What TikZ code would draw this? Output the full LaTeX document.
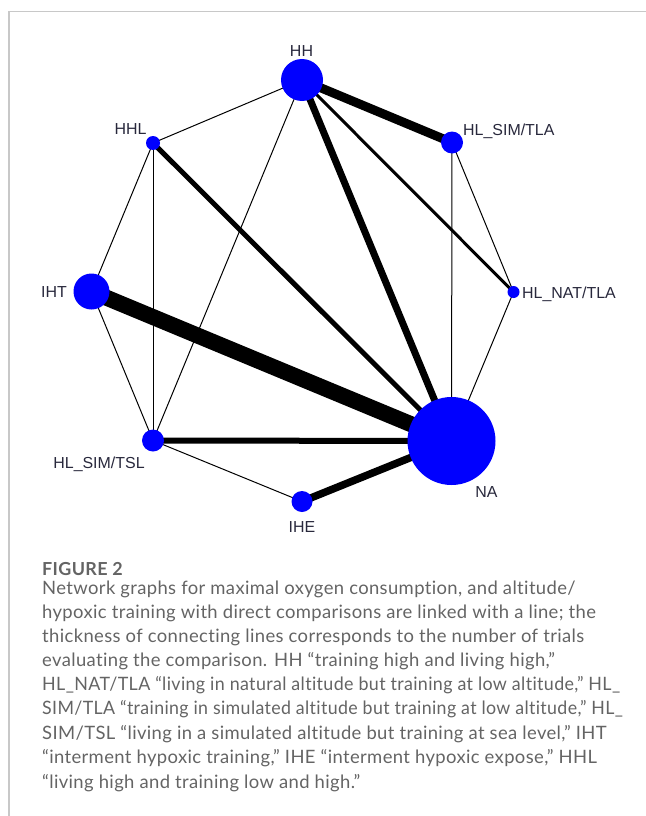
\documentclass[tikz,border=0pt]{standalone}
\usepackage{fontspec}
\setmainfont{Liberation Sans}
\newfontfamily\capfont[LetterSpace=2,Ligatures=NoCommon]{Lato}
\usetikzlibrary{backgrounds}
\definecolor{nodeblue}{RGB}{0,0,255}
\definecolor{labelcol}{RGB}{40,40,60}
\definecolor{captext}{RGB}{100,100,100}
\definecolor{framegray}{RGB}{200,200,200}
\begin{document}
\begin{tikzpicture}[x=1bp,y=-1bp,
  vert/.style={circle,fill=nodeblue,draw=none,inner sep=0pt,minimum size=#1},
  lab/.style={font=\fontsize{16}{16}\selectfont,text=labelcol,inner sep=0pt},
  lnk/.style={draw=black,line width=#1},
  capline/.style={font=\capfont\fontsize{18.5}{20}\selectfont,text=captext,inner sep=0pt,anchor=base west},
  caphead/.style={font=\capfont\bfseries\fontsize{18}{20}\selectfont,text=captext,inner sep=0pt,anchor=base west}]
\useasboundingbox (0,0) rectangle (646,816);
\draw[framegray,line width=1.2bp] (9,816) -- (9,11.5) -- (646,11.5);

% vertices
\node[vert=42bp] (HH) at (302,80) {};
\node[vert=22bp] (SIMTLA) at (452,142.5) {};
\node[vert=14bp] (HHL) at (153,143) {};
\node[vert=36bp] (IHT) at (91.5,291.5) {};
\node[vert=12bp] (NATTLA) at (513.5,292) {};
\node[vert=22bp] (SIMTSL) at (153,440.5) {};
\node[vert=88bp] (NA) at (451.5,441) {};
\node[vert=21bp] (IHE) at (302,501.5) {};

% labels
\node[lab,anchor=base] (lHH) at (301.5,57) {HH};
\node[lab,anchor=base] (lHHL) at (130.5,134) {HHL};
\node[lab,anchor=base west] (lSIMTLA) at (463,135) {HL\_SIM/TLA};
\node[lab,anchor=base] (lIHT) at (54,297) {IHT};
\node[lab,anchor=base west] (lNATTLA) at (522,298) {HL\_NAT/TLA};
\node[lab,anchor=base] (lSIMTSL) at (99,468) {HL\_SIM/TSL};
\node[lab,anchor=base] (lNA) at (486.5,497) {NA};
\node[lab,anchor=base] (lIHE) at (302,532) {IHE};

% edges
\begin{scope}[on background layer]
\draw[lnk=1bp] (HH.center) -- (HHL.center);
\draw[lnk=1bp] (HH.center) -- (SIMTSL.center);
\draw[lnk=9bp] (HH.center) -- (SIMTLA.center);
\draw[lnk=7bp] (HH.center) -- (NA.center);
\draw[lnk=3bp] (HH.center) -- (NATTLA.center);
\draw[lnk=1bp] (HHL.center) -- (IHT.center);
\draw[lnk=1bp] (HHL.center) -- (SIMTSL.center);
\draw[lnk=5bp] (HHL.center) -- (NA.center);
\draw[lnk=16bp] (IHT.center) -- (NA.center);
\draw[lnk=1bp] (IHT.center) -- (SIMTSL.center);
\draw[lnk=6bp] (SIMTSL.center) -- (NA.center);
\draw[lnk=1bp] (SIMTSL.center) -- (IHE.center);
\draw[lnk=7.5bp] (IHE.center) -- (NA.center);
\draw[lnk=1bp] (SIMTLA.center) -- (NA.center);
\draw[lnk=1bp] (SIMTLA.center) -- (NATTLA.center);
\draw[lnk=1bp] (NATTLA.center) -- (NA.center);
\end{scope}

% caption
\node[caphead] (cap0) at (42,575) {FIGURE 2};
\node[capline] (cap1) at (42,594) {Network graphs for maximal oxygen consumption, and altitude/};
\node[capline] (cap2) at (42,618) {hypoxic training with direct comparisons are linked with a line; the};
\node[capline] (cap3) at (42,642) {thickness of connecting lines corresponds to the number of trials};
\node[capline] (cap4) at (42,666) {evaluating the comparison. HH “training high and living high,”};
\node[capline] (cap5) at (42,690) {\scalebox{0.97}[1]{HL\_NAT/TLA “living in natural altitude but training at low altitude,” HL\_}};
\node[capline] (cap6) at (42,714.5) {\scalebox{0.965}[1]{SIM/TLA “training in simulated altitude but training at low altitude,” HL\_}};
\node[capline] (cap7) at (42,739) {SIM/TSL “living in a simulated altitude but training at sea level,” IHT};
\node[capline] (cap8) at (42,763.5) {“interment hypoxic training,” IHE “interment hypoxic expose,” HHL};
\node[capline] (cap9) at (42,788) {“living high and training low and high.”};
\end{tikzpicture}
\end{document}
